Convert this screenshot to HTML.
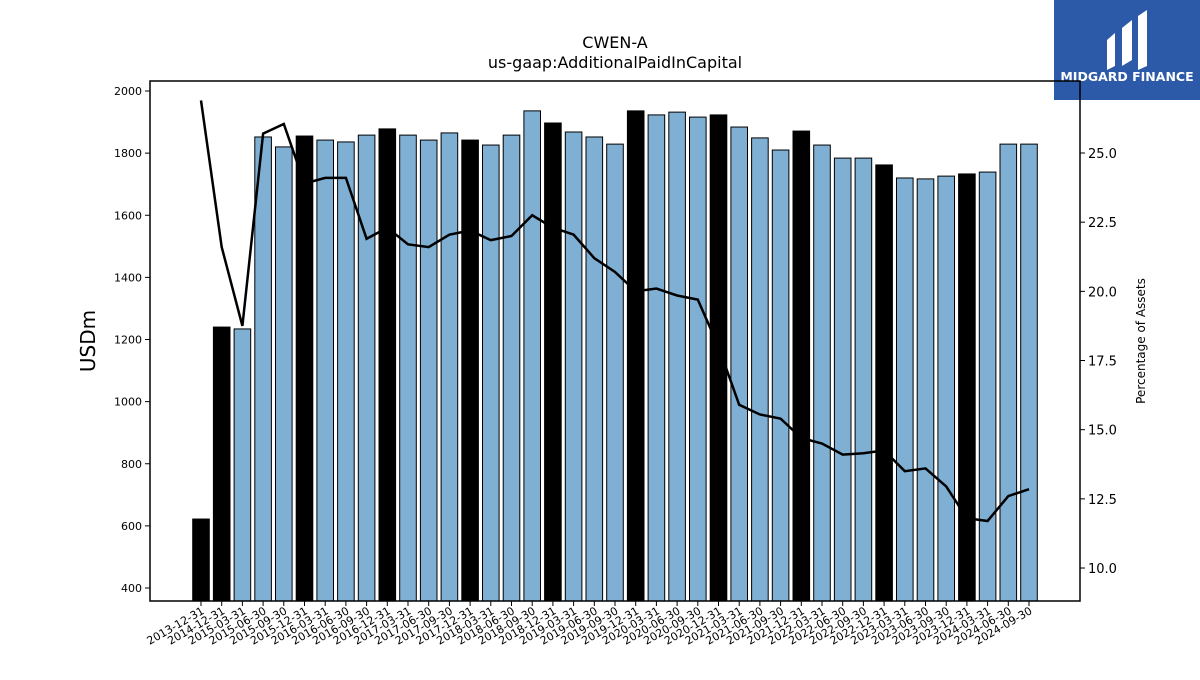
<!DOCTYPE html>
<html><head><meta charset="utf-8"><style>
body{margin:0;background:#fff;font-family:"Liberation Sans",sans-serif}
svg text{font-family:"DejaVu Sans","Liberation Sans",sans-serif}
</style></head><body>
<svg id="c" width="1200" height="675">
<rect x="1054" y="0" width="146" height="100" fill="#2c5aa8"/>
<g fill="#fff">
<path d="M1107 40 L1115 33 L1115 66 L1107 70 Z"/><path d="M1122 28 L1132 20 L1132 60 L1122 66 Z"/><path d="M1138 16 L1147 10 L1147 66 L1138 70 Z"/>
</g>
<text x="1127" y="81" text-anchor="middle" fill="#fff" font-size="12.5" font-weight="bold">MIDGARD FINANCE</text>
<text x="615" y="48" text-anchor="middle" font-size="16">CWEN-A</text>
<text x="615" y="68" text-anchor="middle" font-size="16">us-gaap:AdditionalPaidInCapital</text>
<g id="bars"></g><g id="axes"></g>
<text transform="translate(95,341) rotate(-90)" text-anchor="middle" font-size="20">USDm</text>
<text transform="translate(1145,341) rotate(-90)" text-anchor="middle" font-size="12">Percentage of Assets</text>
</svg>
<script>
const categories=["2013-12-31","2014-12-31","2015-03-31","2015-06-30","2015-09-30","2015-12-31","2016-03-31","2016-06-30","2016-09-30","2016-12-31","2017-03-31","2017-06-30","2017-09-30","2017-12-31","2018-03-31","2018-06-30","2018-09-30","2018-12-31","2019-03-31","2019-06-30","2019-09-30","2019-12-31","2020-03-31","2020-06-30","2020-09-30","2020-12-31","2021-03-31","2021-06-30","2021-09-30","2021-12-31","2022-03-31","2022-06-30","2022-09-30","2022-12-31","2023-03-31","2023-06-30","2023-09-30","2023-12-31","2024-03-31","2024-06-30","2024-09-30"];
const values=[622,1240,1234,1852,1820,1855,1842,1836,1858,1878,1858,1842,1865,1842,1826,1858,1936,1897,1868,1852,1829,1936,1923,1932,1916,1923,1884,1849,1810,1871,1826,1784,1784,1762,1720,1717,1726,1733,1739,1829,1829];
const pct=[26.9,21.6,18.75,25.7,26.05,23.9,24.1,24.1,21.9,22.3,21.7,21.6,22.05,22.2,21.85,22.0,22.75,22.3,22.05,21.2,20.7,20.0,20.1,19.85,19.7,18.0,15.9,15.55,15.4,14.7,14.5,14.1,14.15,14.25,13.5,13.6,12.95,11.8,11.7,12.6,12.85];
const leftTicks=[400,600,800,1000,1200,1400,1600,1800,2000];
const rightTicks=[10.0,12.5,15.0,17.5,20.0,22.5,25.0];
const NS="http://www.w3.org/2000/svg";
const X0=150,X1=1080,Y0=81,Y1=601;
const yL=v=>91+(2000-v)/200*62.125;
const yR=v=>153+(25-v)/2.5*69.17;
const xC=i=>201+i*20.7;
function mk(t,a,p){const e=document.createElementNS(NS,t);for(const k in a)e.setAttribute(k,a[k]);p.appendChild(e);return e;}
const bars=document.getElementById('bars'),axes=document.getElementById('axes');
values.forEach((v,i)=>{
 const black=categories[i].endsWith('12-31');
 const r=mk('rect',{x:xC(i)-8.3,y:yL(v),width:16.6,height:Y1-yL(v),fill:black?'#000':'#7fb0d4',stroke:'#000','stroke-width':1},bars);
 
 
});
const pl=mk('polyline',{points:pct.map((p,i)=>xC(i)+','+yR(p)).join(' '),fill:'none',stroke:'#000','stroke-width':2.5},bars);


const fr=mk('rect',{x:X0,y:Y0,width:X1-X0,height:Y1-Y0,fill:'none',stroke:'#000','stroke-width':1.5},axes);


leftTicks.forEach(t=>{const y=yL(t);mk('line',{x1:X0-5,x2:X0,y1:y,y2:y,stroke:'#000'},axes);
 const tx=mk('text',{x:X0-8,y:y+4,'text-anchor':'end','font-size':11},axes);tx.textContent=t;
 
 });
rightTicks.forEach(t=>{const y=yR(t);mk('line',{x1:X1,x2:X1+5,y1:y,y2:y,stroke:'#000'},axes);
 const tx=mk('text',{x:X1+8,y:y+5,'font-size':13},axes);tx.textContent=t.toFixed(1);
 
 });
categories.forEach((c,i)=>{const x=xC(i);mk('line',{x1:x,x2:x,y1:Y1,y2:Y1+5,stroke:'#000'},axes);
 const tx=mk('text',{transform:`translate(${x+4},${Y1+12}) rotate(-30)`,'text-anchor':'end','font-size':11},axes);tx.textContent=c;
 
 });
</script>
</body></html>
